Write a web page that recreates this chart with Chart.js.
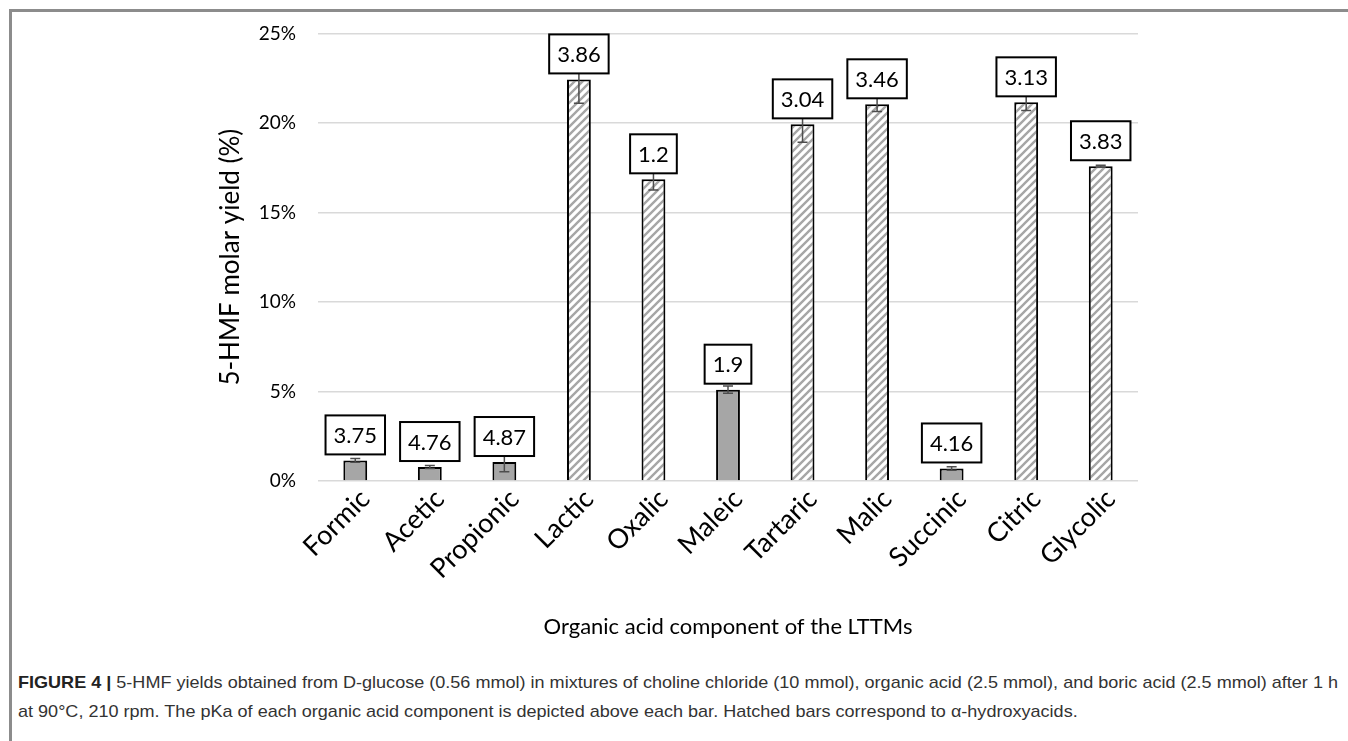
<!DOCTYPE html>
<html>
<head>
<meta charset="utf-8">
<script src="https://cdn.jsdelivr.net/npm/chart.js@4.4.1/dist/chart.umd.min.js"></script>
<style>
  body { margin: 0; background: #fff; width: 1348px; height: 741px; overflow: hidden; position: relative; }
  #frame { position: absolute; left: 9px; top: 9px; width: 1345px; height: 740px; border-left: 3px solid #8c8c8c; border-top: 3px solid #8c8c8c; }
  #chartBox { position: absolute; left: 0; top: 0; }
  #caption { position: absolute; left: 18px; top: 668px; font-family: "Liberation Sans", Arial, sans-serif; font-size: 17px; line-height: 29px; color: #333; white-space: nowrap; }
  #caption div { display: inline-block; transform-origin: 0 0; }
  #caption b { color: #222; }
</style>
</head>
<body>
<div id="frame"></div>
<div id="chartBox"><canvas id="hmfChart" width="1348" height="650"></canvas></div>
<div id="caption">
  <div id="cap1"><b>FIGURE 4 |</b> 5-HMF yields obtained from D-glucose (0.56 mmol) in mixtures of choline chloride (10 mmol), organic acid (2.5 mmol), and boric acid (2.5 mmol) after 1 h</div><br>
  <div id="cap2">at 90°C, 210 rpm. The pKa of each organic acid component is depicted above each bar. Hatched bars correspond to α-hydroxyacids.</div>
</div>
<script>
const acids = ["Formic", "Acetic", "Propionic", "Lactic", "Oxalic", "Maleic", "Tartaric", "Malic", "Succinic", "Citric", "Glycolic"]
const yields = [1.15, 0.78, 1.06, 22.43, 16.85, 5.1, 19.92, 21.04, 0.7, 21.15, 17.58]
const errors = [0.1, 0.08, 0.55, 1.33, 0.6, 0.2, 1.0, 0.4, 0.1, 0.45, 0.05]
const pka = ["3.75", "4.76", "4.87", "3.86", "1.2", "1.9", "3.04", "3.46", "4.16", "3.13", "3.83"]
const hatched = [false, false, false, true, true, false, true, true, false, true, true]

const font = "Lato, 'Open Sans', sans-serif"

// caption is set in a condensed face in the original, squeeze it to the same width
const cap1 = document.getElementById("cap1")
const squeeze = 1320 / cap1.getBoundingClientRect().width
cap1.style.transform = "scaleX(" + squeeze + ")"
document.getElementById("cap2").style.transform = "scaleX(" + squeeze + ")"

// diagonal hatch for alpha-hydroxyacids
function makeHatch() {
    const c = document.createElement("canvas")
    c.width = 8
    c.height = 8
    const g = c.getContext("2d")
    g.fillStyle = "#fff"
    g.fillRect(0, 0, 8, 8)
    g.strokeStyle = "#a6a6a6"
    g.lineWidth = 2.4
    g.beginPath()
    g.moveTo(-2, 10); g.lineTo(10, -2)
    g.moveTo(-2, 2); g.lineTo(2, -2)
    g.moveTo(6, 10); g.lineTo(10, 6)
    g.stroke()
    return g.createPattern(c, "repeat")
}
const hatch = makeHatch()

const errorBars = {
    id: "errorBars",
    afterDatasetsDraw(chart) {
        const ctx = chart.ctx
        const y = chart.scales.y
        const meta = chart.getDatasetMeta(0)
        ctx.save()
        ctx.strokeStyle = "#4d4d4d"
        ctx.lineWidth = 1.5
        meta.data.forEach((bar, i) => {
            const top = y.getPixelForValue(yields[i] + errors[i])
            const bot = y.getPixelForValue(yields[i] - errors[i])
            ctx.beginPath()
            ctx.moveTo(bar.x, top); ctx.lineTo(bar.x, bot)
            ctx.moveTo(bar.x - 5, top); ctx.lineTo(bar.x + 5, top)
            ctx.moveTo(bar.x - 5, bot); ctx.lineTo(bar.x + 5, bot)
            ctx.stroke()
        })
        ctx.restore()
    }
}

const pkaLabels = {
    id: "pkaLabels",
    afterDatasetsDraw(chart) {
        const ctx = chart.ctx
        const meta = chart.getDatasetMeta(0)
        ctx.save()
        ctx.font = "22px " + font
        ctx.textAlign = "center"
        ctx.textBaseline = "middle"
        meta.data.forEach((bar, i) => {
            const w = ctx.measureText(pka[i]).width + 16
            const h = 39
            const bottom = bar.y - 6
            ctx.fillStyle = "#fff"
            ctx.fillRect(bar.x - w / 2, bottom - h, w, h)
            ctx.strokeStyle = "#000"
            ctx.lineWidth = 2
            ctx.strokeRect(bar.x - w / 2, bottom - h, w, h)
            ctx.fillStyle = "#000"
            ctx.fillText(pka[i], bar.x, bottom - h / 2 + 1)
        })
        ctx.restore()
    }
}

const ctx = document.getElementById("hmfChart").getContext("2d")
const myChart = new Chart(ctx, {
    type: "bar",
    data: {
        labels: acids,
        datasets: [{
            data: yields,
            backgroundColor: hatched.map((h) => h ? hatch : "#a6a6a6"),
            borderColor: "#000",
            borderWidth: 2,
            barPercentage: 0.32,
            categoryPercentage: 1
        }]
    },
    options: {
        responsive: false,
        animation: false,
        layout: { padding: { left: 211, right: 210, top: 33, bottom: 0 } },
        plugins: {
            legend: { display: false },
            tooltip: { enabled: false }
        },
        scales: {
            x: {
                afterFit: (s) => { s.height = 650 - 481 },
                grid: { display: false },
                border: { display: false },
                ticks: {
                    color: "#000",
                    font: { family: font, size: 27 },
                    minRotation: 45,
                    maxRotation: 45,
                    padding: -6,
                    labelOffset: 10
                },
                title: {
                    display: true,
                    text: "Organic acid component of the LTTMs",
                    color: "#000",
                    font: { family: font, size: 22 },
                    padding: { top: 4, bottom: 10 }
                }
            },
            y: {
                min: 0,
                max: 25,
                afterFit: (s) => { s.width = 318 - 211 },
                border: { display: false },
                grid: { color: "#d9d9d9", lineWidth: 1.5, drawTicks: false },
                ticks: {
                    stepSize: 5,
                    color: "#000",
                    font: { family: font, size: 19 },
                    padding: 22,
                    callback: (v) => v + "%"
                },
                title: {
                    display: true,
                    text: "5-HMF molar yield (%)",
                    color: "#000",
                    font: { family: font, size: 26 },
                    padding: { top: 4, bottom: 4 }
                }
            }
        }
    },
    plugins: [errorBars, pkaLabels]
})
</script>
</body>
</html>
